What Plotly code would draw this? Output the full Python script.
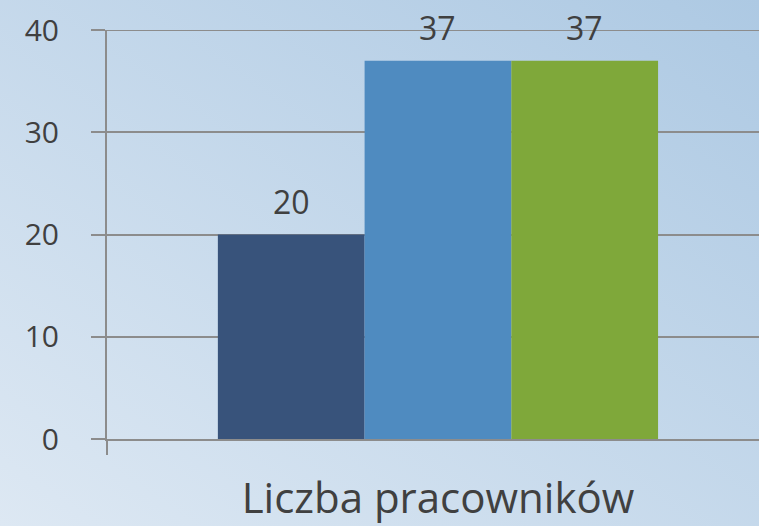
import base64
import plotly.graph_objects as go

categories = ["Liczba pracowników"]
series_names = ["Seria 1", "Seria 2", "Seria 3"]
series_values = [[20], [37], [37]]
series_colors = ["#38537b", "#4f8bc0", "#7fa83a"]
y_ticks = [0, 10, 20, 30, 40]

W, H = 759, 526
ML, MR, MT, MB = 107, 0, 30, 87
PW, PH = W - ML - MR, H - MT - MB

FONT = "Open Sans"
TXT = "#404040"
GRID = "#8c8c8c"

svg = (
    '<svg xmlns="http://www.w3.org/2000/svg" width="759" height="526" preserveAspectRatio="none">'
    '<defs><linearGradient id="g" x1="0" y1="1" x2="1" y2="0">'
    '<stop offset="0" stop-color="#dde8f3"/><stop offset="1" stop-color="#adc9e3"/>'
    '</linearGradient></defs><rect width="759" height="526" fill="url(#g)"/></svg>'
)
src = "data:image/svg+xml;base64," + base64.b64encode(svg.encode()).decode()

fig = go.Figure()
for name, vals, col in zip(series_names, series_values, series_colors):
    fig.add_trace(go.Bar(x=categories, y=vals, name=name, marker=dict(color=col, line=dict(width=0)),
                         showlegend=False, hoverinfo="skip"))

annotations = []
n = len(series_names)
grp = 1 - 0.335
for i, vals in enumerate(series_values):
    for j, v in enumerate(vals):
        off = -grp / 2 + grp / n * (i + 0.5)
        annotations.append(dict(x=j + off, y=v, xref="x", yref="y", text=str(v), showarrow=False,
                                yanchor="bottom", yshift=10, font=dict(family=FONT, size=32, color=TXT)))

# top gridline (Plotly hides gridlines lying on the plot edge)
shapes = [dict(type="line", xref="paper", yref="y", x0=0, x1=1, y0=y_ticks[-1], y1=y_ticks[-1],
               line=dict(color=GRID, width=2), layer="below")]

fig.update_layout(
    width=W, height=H,
    margin=dict(l=ML, r=MR, t=MT, b=MB),
    paper_bgcolor="rgba(0,0,0,0)", plot_bgcolor="rgba(0,0,0,0)",
    barmode="group", bargap=0.335, bargroupgap=0,
    annotations=annotations, shapes=shapes,
    images=[dict(source=src, xref="paper", yref="paper", x=-ML / PW, y=1 + MT / PH,
                 sizex=W / PW, sizey=H / PH, sizing="stretch", layer="below",
                 xanchor="left", yanchor="top")],
    xaxis=dict(type="category", range=[-0.5, 0.485], showline=True, linecolor=GRID, linewidth=2,
               ticks="outside", tickson="boundaries", ticklen=14, tickwidth=2, tickcolor=GRID,
               tickfont=dict(family=FONT, size=42, color=TXT), showgrid=False,
               ticklabelstandoff=22),
    yaxis=dict(range=[0, 40], tickvals=y_ticks, showline=True, linecolor=GRID, linewidth=2,
               showgrid=True, gridcolor=GRID, gridwidth=2, zeroline=False,
               ticks="outside", ticklen=14, tickwidth=2, tickcolor=GRID,
               tickfont=dict(family=FONT, size=30, color=TXT), ticklabelstandoff=26),
)
fig.write_html("out.html", config={"displayModeBar": False, "staticPlot": True},
               post_script="document.body.style.margin='0';document.body.style.overflow='hidden';")
